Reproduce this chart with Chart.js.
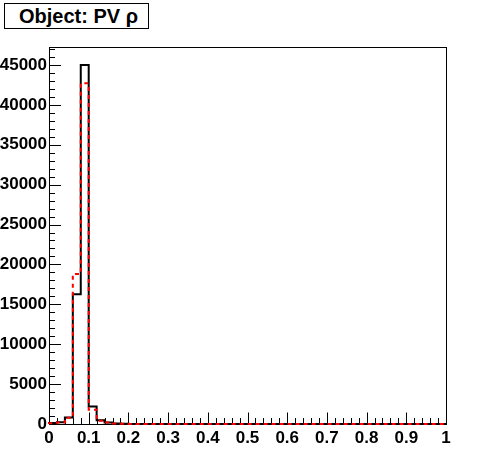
<!DOCTYPE html>
<html>
<head>
<meta charset="utf-8">
<script src="https://cdn.jsdelivr.net/npm/chart.js@4.4.1/dist/chart.umd.min.js"></script>
<style>
  html, body { margin: 0; padding: 0; background: #fff; }
  #wrap { position: relative; width: 496px; height: 472px; }
  #title {
    position: absolute; left: 4px; top: 3px; width: 129px; height: 24px;
    border: 1px solid #000; background: #fff; padding-left: 14px;
    font: bold 20px 'Liberation Sans', Arial, sans-serif; line-height: 24px;
    color: #000; white-space: nowrap;
  }
</style>
</head>
<body>
<div id="wrap">
  <canvas id="hist" width="496" height="472"></canvas>
  <div id="title">Object: PV ρ</div>
</div>
<script>
// histogram: 50 bins over [0, 1]
const X_MIN = 0, X_MAX = 1, N_BINS = 50;
const Y_MAX = 47250;
const X_TICKS = [0, 0.1, 0.2, 0.3, 0.4, 0.5, 0.6, 0.7, 0.8, 0.9, 1];
const Y_TICKS = [0, 5000, 10000, 15000, 20000, 25000, 30000, 35000, 40000, 45000];

// bin contents
const BLACK_COUNTS = [
  120, 220, 800, 16250, 45000, 2200, 460, 190, 70, 30,
  15, 10, 5, 0, 0, 0, 0, 0, 0, 0,
  0, 0, 0, 0, 0, 0, 0, 0, 0, 0,
  0, 0, 0, 0, 0, 0, 0, 0, 0, 0,
  0, 0, 0, 0, 0, 0, 0, 0, 0, 0,
];
const RED_COUNTS = [
  80, 180, 780, 18800, 42700, 1800, 400, 200, 70, 30,
  15, 10, 5, 0, 0, 0, 0, 0, 0, 0,
  0, 0, 0, 0, 0, 0, 0, 0, 0, 0,
  0, 0, 0, 0, 0, 0, 0, 0, 0, 0,
  0, 0, 0, 0, 0, 0, 0, 0, 0, 0,
];

// step outline: each point is a bin's lower edge, held until the next edge
function outline(counts) {
  const w = (X_MAX - X_MIN) / N_BINS;
  const pts = [{ x: X_MIN, y: 0 }];
  counts.forEach((v, i) => pts.push({ x: X_MIN + i * w, y: v }));
  pts.push({ x: X_MAX, y: counts[counts.length - 1] });
  pts.push({ x: X_MAX, y: 0 });
  return pts;
}

// ROOT-style frame with ticks pointing inside
const frameTicks = {
  id: 'frameTicks',
  beforeDatasetsDraw(chart) {
    const { ctx, chartArea: a, scales: { x, y } } = chart;
    ctx.save();
    ctx.strokeStyle = '#000';
    ctx.lineWidth = 1;
    ctx.strokeRect(a.left + 0.5, a.top + 0.5, a.right - a.left, a.bottom - a.top);
    ctx.beginPath();
    for (let i = 0; i <= 50; i++) {
      const px = Math.round(x.getPixelForValue(i * 0.02)) + 0.5;
      const len = i % 5 === 0 ? 11.5 : 6;
      ctx.moveTo(px, a.bottom);
      ctx.lineTo(px, a.bottom - len);
    }
    for (let v = 0; v <= 47000; v += 1000) {
      const py = Math.round(y.getPixelForValue(v)) + 0.5;
      const len = v % 5000 === 0 ? 12 : 6;
      ctx.moveTo(a.left, py);
      ctx.lineTo(a.left + len, py);
    }
    ctx.stroke();
    ctx.restore();
  },
};

const tickFont = { family: "'Liberation Sans', Arial, sans-serif", size: 17, weight: 'bold' };

new Chart(document.getElementById('hist'), {
  type: 'line',
  data: {
    datasets: [{
      label: 'red',
      data: outline(RED_COUNTS),
      borderColor: '#ff0000',
      borderWidth: 2,
      borderDash: [4, 4],
      stepped: 'before',
      pointRadius: 0,
      fill: false,
      order: 0,
      clip: 4,
    }, {
      label: 'black',
      data: outline(BLACK_COUNTS),
      borderColor: '#000000',
      borderWidth: 2,
      stepped: 'before',
      pointRadius: 0,
      fill: false,
      order: 1,
      clip: 4,
    }],
  },
  options: {
    responsive: false,
    animation: false,
    layout: { padding: { left: 0, right: 50, top: 47, bottom: 0 } },
    plugins: { legend: { display: false }, tooltip: { enabled: false } },
    scales: {
      x: {
        type: 'linear',
        min: X_MIN, max: X_MAX,
        grid: { display: false, drawTicks: false },
        border: { display: false },
        afterBuildTicks: (s) => { s.ticks = X_TICKS.map((v) => ({ value: v })); },
        ticks: { autoSkip: false, padding: 4, color: '#000', font: tickFont, maxRotation: 0,
                 callback: (v) => String(v) },
        afterFit: (s) => { s.height = 48; },
      },
      y: {
        type: 'linear',
        min: 0, max: Y_MAX,
        grid: { display: false, drawTicks: false },
        border: { display: false },
        afterBuildTicks: (s) => { s.ticks = Y_TICKS.map((v) => ({ value: v })); },
        ticks: { autoSkip: false, padding: 2, color: '#000', font: tickFont,
                 callback: (v) => String(v) },
        afterFit: (s) => { s.width = 49; },
      },
    },
  },
  plugins: [frameTicks],
});
</script>
</body>
</html>
